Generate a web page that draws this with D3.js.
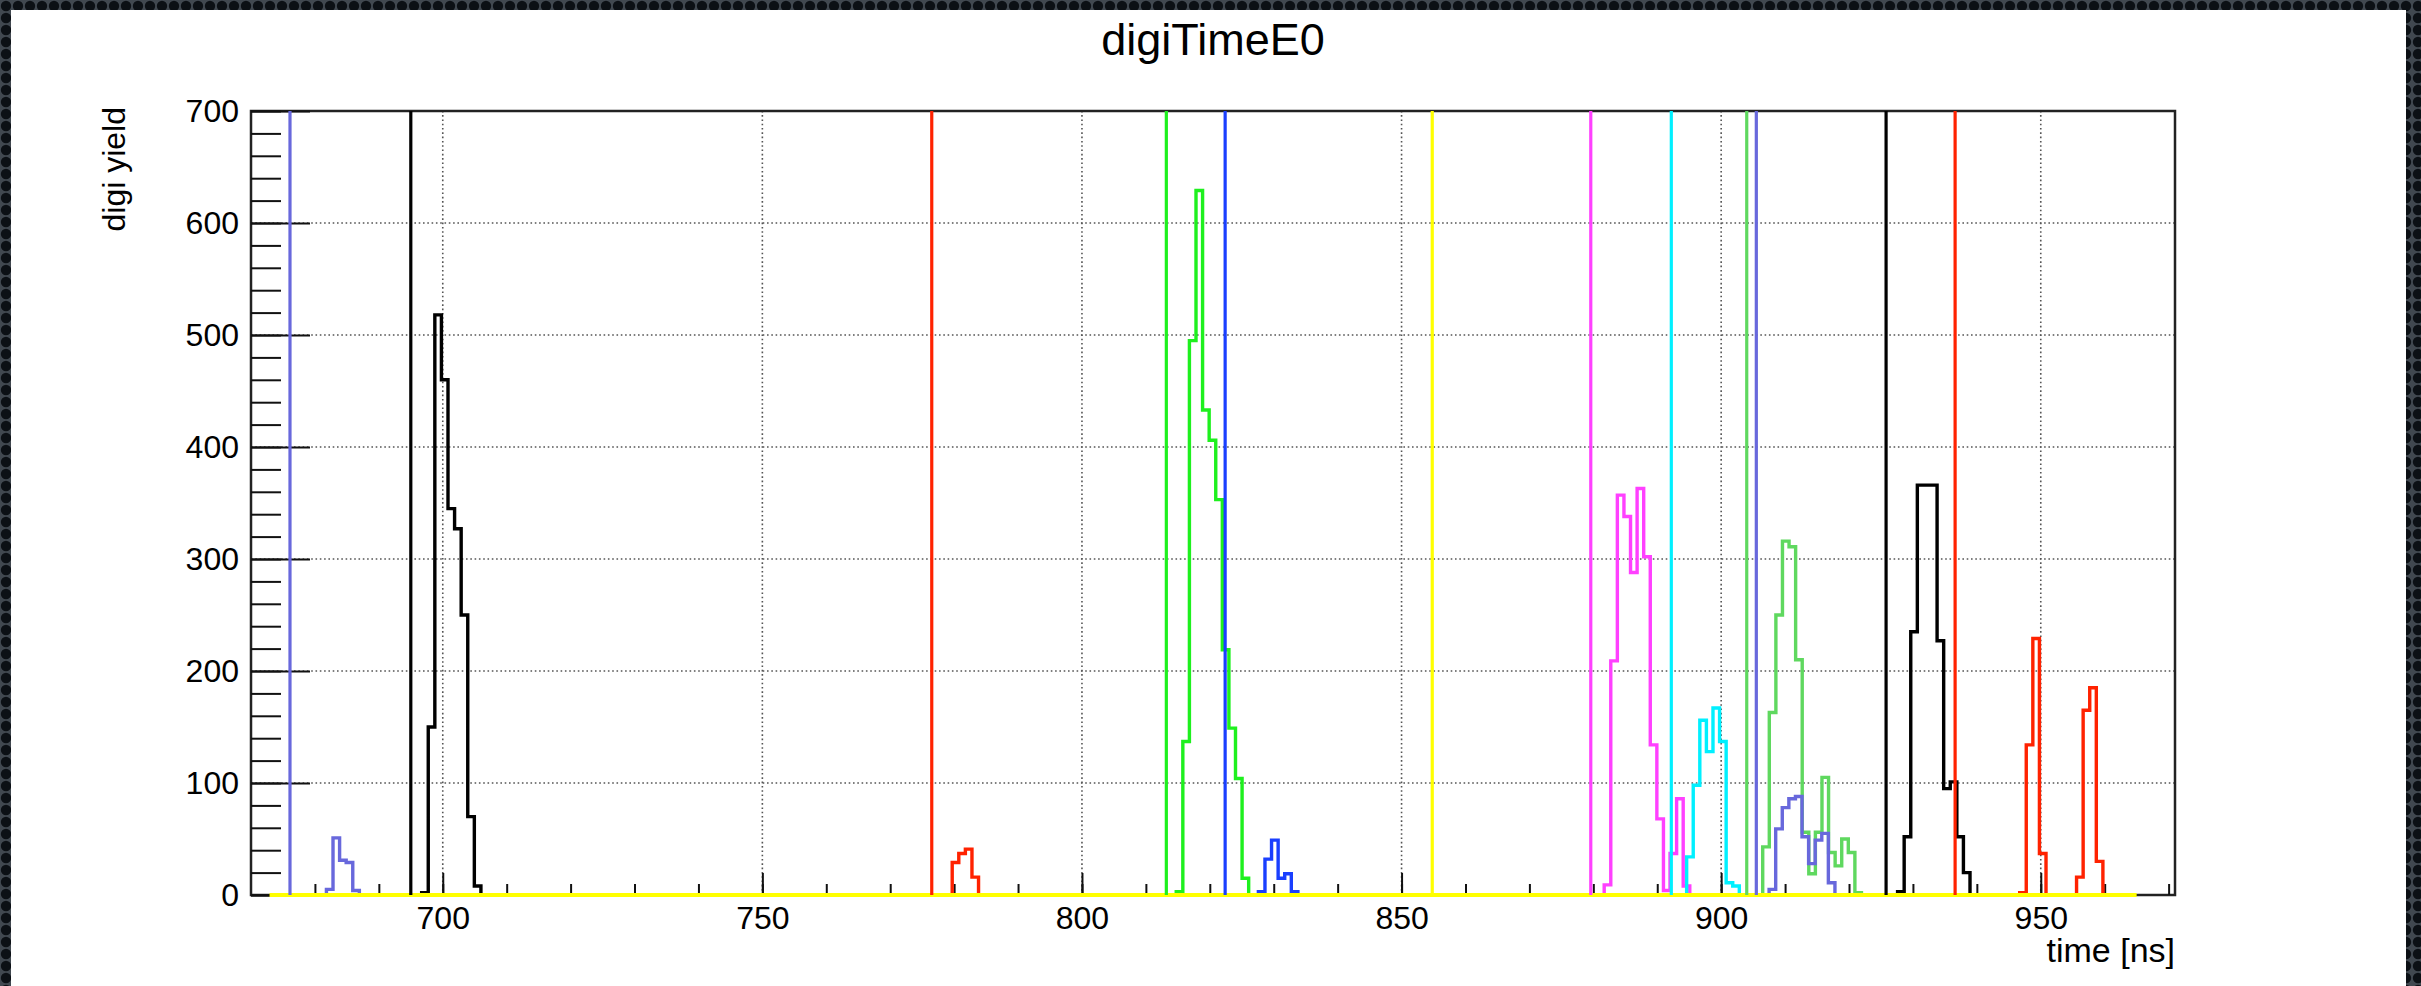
<!DOCTYPE html>
<html>
<head>
<meta charset="utf-8">
<title>digiTimeE0</title>
<script src="https://cdn.jsdelivr.net/npm/d3@7"></script>
<style>
  body { margin: 0; background: #1a1f26; overflow: hidden; }
  text { font-family: "Liberation Sans", Arial, Helvetica, sans-serif; fill: #000; }
</style>
</head>
<body>
<div id="chart"></div>
<script>
// Chart values
var xDomain = [670, 971];
var yDomain = [0, 700];
var xMajorTicks = [700, 750, 800, 850, 900, 950];
var yMajorTicks = [0, 100, 200, 300, 400, 500, 600, 700];

// Vertical time markers (ns) and their colours
var markerTimes = [676.1, 695.0, 776.5, 813.2, 822.4, 854.8, 879.6, 892.2, 904.0, 905.5, 925.8, 936.6];
var markerColors = ["#6868dc", "#000000", "#ff2200", "#1ef01e", "#1a3fff", "#ffff00",
                    "#ff40ff", "#00f0ff", "#5fd85f", "#6868dc", "#000000", "#ff2200"];

// Histograms: colour, time of first bin edge (ns), bin contents
var binWidth = 1.03;
var histRange = [672.9, 965];
var histColors = ["#6868dc", "#000000", "#ff2200", "#1ef01e", "#1a3fff", "#ffff00",
                  "#ff40ff", "#00f0ff", "#5fd85f", "#6868dc", "#000000", "#ff2200", "#ff2200"];
var histStarts = [681.8, 696.7, 779.7, 814.75, 827.6, 672.9, 881.7, 894.6, 906.5, 907.5, 927.6, 946.7, 955.6];
var histCounts = [
  [5, 51, 31, 29, 4],
  [2, 150, 518, 460, 345, 327, 250, 70, 8],
  [29, 37, 41, 16],
  [3, 137, 495, 629, 433, 406, 353, 219, 149, 104, 15],
  [3, 32, 49, 15, 19, 3],
  [],
  [9, 209, 357, 338, 288, 363, 302, 134, 68, 4, 37, 86, 8],
  [34, 98, 156, 128, 167, 137, 11, 8],
  [43, 163, 250, 316, 311, 210, 56, 19, 56, 105, 38, 26, 50, 38, 2],
  [5, 59, 78, 86, 88, 52, 28, 49, 55, 11],
  [3, 52, 235, 366, 366, 366, 227, 95, 101, 52, 20],
  [2, 134, 229, 37],
  [16, 165, 185, 30]
];

// Page and frame geometry
var W = 2421, H = 986;
var frame = { left: 251, right: 2175, top: 111, bottom: 895 };

var svg = d3.select("#chart")
  .append("svg")
    .attr("width", W)
    .attr("height", H);

// Dark patterned border around the white canvas
var defs = svg.append("defs");
var pat = defs.append("pattern")
    .attr("id", "bgpat")
    .attr("patternUnits", "userSpaceOnUse")
    .attr("width", 12)
    .attr("height", 12);
pat.append("rect").attr("width", 12).attr("height", 12).attr("fill", "#414850");
pat.append("circle").attr("cx", 6).attr("cy", 6).attr("r", 5.2).attr("fill", "#0c1015");

defs.append("clipPath").attr("id", "frameclip")
  .append("rect")
    .attr("x", frame.left)
    .attr("y", frame.top - 2)
    .attr("width", frame.right - frame.left)
    .attr("height", frame.bottom - frame.top + 4);

svg.append("rect").attr("width", W).attr("height", H).attr("fill", "url(#bgpat)");
svg.append("rect")
  .attr("x", 11).attr("y", 10)
  .attr("width", 2406 - 11).attr("height", H - 10)
  .attr("fill", "#ffffff");

// Scales
var xScale = d3.scaleLinear().domain(xDomain).range([frame.left, frame.right]);
var yScale = d3.scaleLinear().domain(yDomain).range([frame.bottom, frame.top]);

// Dotted grid
var grid = svg.append("g").attr("stroke", "#555").attr("stroke-width", 1.6).attr("stroke-dasharray", "1.6 2.7");
grid.selectAll("line.gx").data(xMajorTicks).enter().append("line")
  .attr("x1", function(d) { return xScale(d); })
  .attr("x2", function(d) { return xScale(d); })
  .attr("y1", frame.bottom)
  .attr("y2", frame.top);
grid.selectAll("line.gy").data(yMajorTicks.slice(1, -1)).enter().append("line")
  .attr("x1", frame.left)
  .attr("x2", frame.right)
  .attr("y1", function(d) { return yScale(d); })
  .attr("y2", function(d) { return yScale(d); });

// Frame (drawn under the histograms, so the yellow base line covers its bottom edge)
svg.append("rect")
  .attr("x", frame.left).attr("y", frame.top)
  .attr("width", frame.right - frame.left).attr("height", frame.bottom - frame.top)
  .attr("fill", "none")
  .attr("stroke", "#222")
  .attr("stroke-width", 2.5);

// Y axis: major and minor ticks pointing into the frame
var yAxis = d3.axisLeft(yScale).tickValues(yMajorTicks).tickSize(-59).tickPadding(12);
var yAxisG = svg.append("g").attr("transform", "translate(" + frame.left + ",0)").call(yAxis);
var yMinor = d3.axisLeft(yScale).tickValues(d3.range(0, 701, 20)).tickSize(-30).tickFormat("");
var yMinorG = svg.append("g").attr("transform", "translate(" + frame.left + ",0)").call(yMinor);

// X axis: major and minor ticks pointing into the frame
var xAxis = d3.axisBottom(xScale).tickValues(xMajorTicks).tickSize(-22).tickPadding(11);
var xAxisG = svg.append("g").attr("transform", "translate(0," + frame.bottom + ")").call(xAxis);
var xMinor = d3.axisBottom(xScale).tickValues(d3.range(680, 971, 10)).tickSize(-11).tickFormat("");
var xMinorG = svg.append("g").attr("transform", "translate(0," + frame.bottom + ")").call(xMinor);

[yAxisG, yMinorG, xAxisG, xMinorG].forEach(function(g) {
  g.select(".domain").remove();
  g.selectAll(".tick line").attr("stroke", "#111").attr("stroke-width", 2);
  g.selectAll("text").attr("font-size", 32).attr("fill", "#000")
    .style("font-family", "'Liberation Sans', Arial, sans-serif");
});

// Histogram outlines
var histLine = d3.line()
  .x(function(d) { return xScale(d[0]); })
  .y(function(d) { return yScale(d[1]); })
  .curve(d3.curveStepAfter);

function histPoints(i) {
  // an empty histogram is just its flat zero line over the full range
  if (histCounts[i].length === 0) return [[histRange[0], 0], [histRange[1], 0]];
  var pts = [[histStarts[i], 0]];
  histCounts[i].forEach(function(c, j) { pts.push([histStarts[i] + j * binWidth, c]); });
  pts.push([histStarts[i] + histCounts[i].length * binWidth, 0]);
  return pts;
}

// empty (all zero) histogram is drawn last, like the yellow base line in the picture
var order = d3.range(histCounts.length).sort(function(a, b) {
  return (histCounts[a].length === 0) - (histCounts[b].length === 0) || a - b;
});

var plot = svg.append("g").attr("clip-path", "url(#frameclip)");
plot.selectAll("path.hist").data(order).enter().append("path")
  .attr("class", "hist")
  .attr("d", function(i) { return histLine(histPoints(i)); })
  .attr("fill", "none")
  .attr("stroke", function(i) { return histColors[i]; })
  .attr("stroke-width", function(i) { return histCounts[i].length === 0 ? 4 : 3.4; })
  .attr("stroke-linejoin", "miter");

// Vertical marker lines
plot.selectAll("line.marker").data(markerTimes).enter().append("line")
  .attr("class", "marker")
  .attr("x1", function(d) { return xScale(d); })
  .attr("x2", function(d) { return xScale(d); })
  .attr("y1", yScale(yDomain[0]))
  .attr("y2", yScale(yDomain[1]))
  .attr("stroke", function(d, i) { return markerColors[i]; })
  .attr("stroke-width", 3.2);

// Titles
svg.append("text")
  .attr("x", 1213).attr("y", 55)
  .attr("text-anchor", "middle")
  .attr("font-size", 45)
  .text("digiTimeE0");

svg.append("text")
  .attr("transform", "translate(125,107) rotate(-90)")
  .attr("text-anchor", "end")
  .attr("font-size", 32)
  .text("digi yield");

svg.append("text")
  .attr("x", frame.right).attr("y", 962)
  .attr("text-anchor", "end")
  .attr("font-size", 34)
  .text("time [ns]");
</script>
</body>
</html>
